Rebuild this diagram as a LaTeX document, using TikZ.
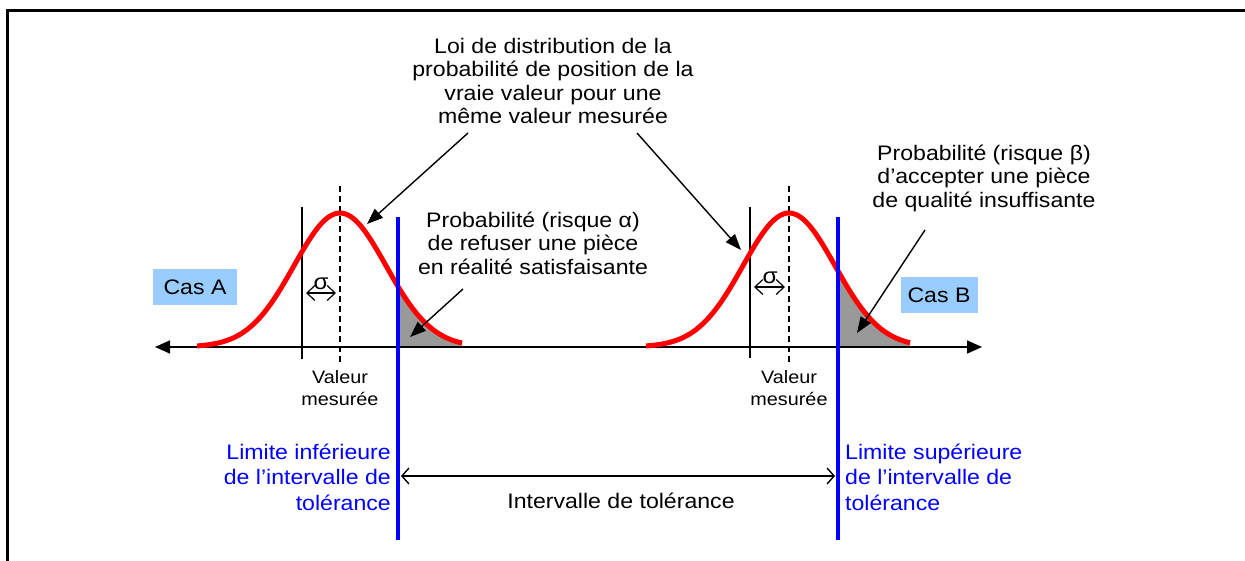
\documentclass[tikz,border=0pt]{standalone}
\usepackage{fontspec}
\setmainfont[FakeStretch=1.1]{Liberation Sans}
\usepackage{xcolor}
\usetikzlibrary{positioning, arrows.meta}

\definecolor{casblue}{HTML}{99CCFF}
\definecolor{limblue}{HTML}{0000FF}
\definecolor{curvered}{HTML}{FF0000}
\definecolor{riskgray}{HTML}{999999}

\begin{document}
\begin{tikzpicture}[
    x=1pt, y=-1pt,
    txt/.style={align=center, inner sep=0pt, font=\fontsize{21}{23.5}\selectfont},
    small/.style={align=center, inner sep=0pt, font=\fontsize{18}{22}\selectfont},
    limtxt/.style={inner sep=0pt, text=limblue, font=\fontsize{21}{25.5}\selectfont},
    cas/.style={rectangle, fill=casblue, minimum width=84pt, minimum height=36pt,
                inner sep=0pt, font=\fontsize{21}{23}\selectfont},
    curve/.style={draw=curvered, line width=5pt},
    limit/.style={draw=limblue, line width=3.5pt},
    ptr/.style={-{Triangle[length=16pt, width=12pt]}, line width=1.4pt},
    sig/.style={{Straight Barb[length=8pt, width=15pt]}-{Straight Barb[length=8pt, width=15pt]}, line width=1.2pt},
    axis/.style={{Triangle[length=15pt, width=13pt]}-{Triangle[length=15pt, width=13pt]}, line width=1.6pt}
]
    \useasboundingbox (0,0) rectangle (1245,561);

    % frame
    \draw[line width=3pt] (1245,11) -- (7,11) -- (7,561);

    % risk areas
    \fill[riskgray] (398,347) -- plot[domain=398:462, samples=30]
        (\x, {347-134*exp(-0.5*((\x-340)/46)^2)}) -- (462,347) -- cycle;
    \fill[riskgray] (838,347) -- plot[domain=838:910, samples=30]
        (\x, {347-134*exp(-0.5*((\x-789)/46)^2)}) -- (910,347) -- cycle;

    % axis
    \coordinate (axl) at (155,347);
    \coordinate (axr) at (982,347);
    \draw[axis] (axl) -- (axr);

    % mean and measured value lines
    \draw[line width=1.2pt] (302,207) -- (302,359);
    \draw[line width=1.2pt, dashed, dash pattern=on 6pt off 4pt] (340,186) -- (340,362);
    \draw[line width=1.2pt] (750,207) -- (750,358);
    \draw[line width=1.2pt, dashed, dash pattern=on 6pt off 4pt] (789,186) -- (789,362);

    % distributions
    \draw[curve] plot[domain=197:462, samples=80]
        (\x, {347-134*exp(-0.5*((\x-340)/46)^2)});
    \draw[curve] plot[domain=646:910, samples=80]
        (\x, {347-134*exp(-0.5*((\x-789)/46)^2)});

    % tolerance limits
    \draw[limit] (398,217) -- (398,540);
    \draw[limit] (838,217) -- (838,540);

    % sigma
    \coordinate (sa1) at (306,293);
    \coordinate (sa2) at (336,293);
    \coordinate (sb1) at (754,287);
    \coordinate (sb2) at (785,287);
    \draw[sig] (sa1) -- (sa2);
    \draw[sig] (sb1) -- (sb2);
    \node[small, font=\fontsize{22}{22}\selectfont] (siga) at (321,284) {σ};
    \node[small, font=\fontsize{22}{22}\selectfont] (sigb) at (770,278) {σ};

    % labels
    \node[small] (vala) at (340,388) {Valeur\\mesurée};
    \node[small] (valb) at (789,388) {Valeur\\mesurée};
    \node[cas] (casa) at (195,287) {Cas A};
    \node[cas, minimum width=77pt] (casb) at (939,295) {Cas B};

    \node[txt] (loi) at (553,81) {Loi de distribution de la\\probabilité de position de la\\vraie valeur pour une\\même valeur mesurée};
    \node[txt] (alpha) at (533,243) {Probabilité (risque α)\\de refuser une pièce\\en réalité satisfaisante};
    \node[txt] (beta) at (984,178) {Probabilité (risque β)\\d’accepter une pièce\\de qualité insuffisante};

    \node[limtxt, anchor=east, align=right] (liminf) at (391,477) {Limite inférieure\\de l’intervalle de\\tolérance};
    \node[limtxt, anchor=west, align=left] (limsup) at (845,477) {Limite supérieure\\de l’intervalle de\\tolérance};
    \node[txt] (tol) at (621,501) {Intervalle de tolérance};

    % pointers
    \coordinate (pa) at (367,224);
    \coordinate (pb) at (741,250);
    \coordinate (ra) at (410,337);
    \coordinate (rb) at (857,333);
    \draw[ptr] (468,133) -- (pa);
    \draw[ptr] (637,133) -- (pb);
    \draw[ptr] (463,289) -- (ra);
    \draw[ptr] (925,230) -- (rb);

    % tolerance interval
    \coordinate (ti1) at (401,476);
    \coordinate (ti2) at (835,476);
    \draw[{Straight Barb[length=7pt, width=16pt]}-{Straight Barb[length=7pt, width=16pt]}, line width=1.4pt] (ti1) -- (ti2);
\end{tikzpicture}
\end{document}
